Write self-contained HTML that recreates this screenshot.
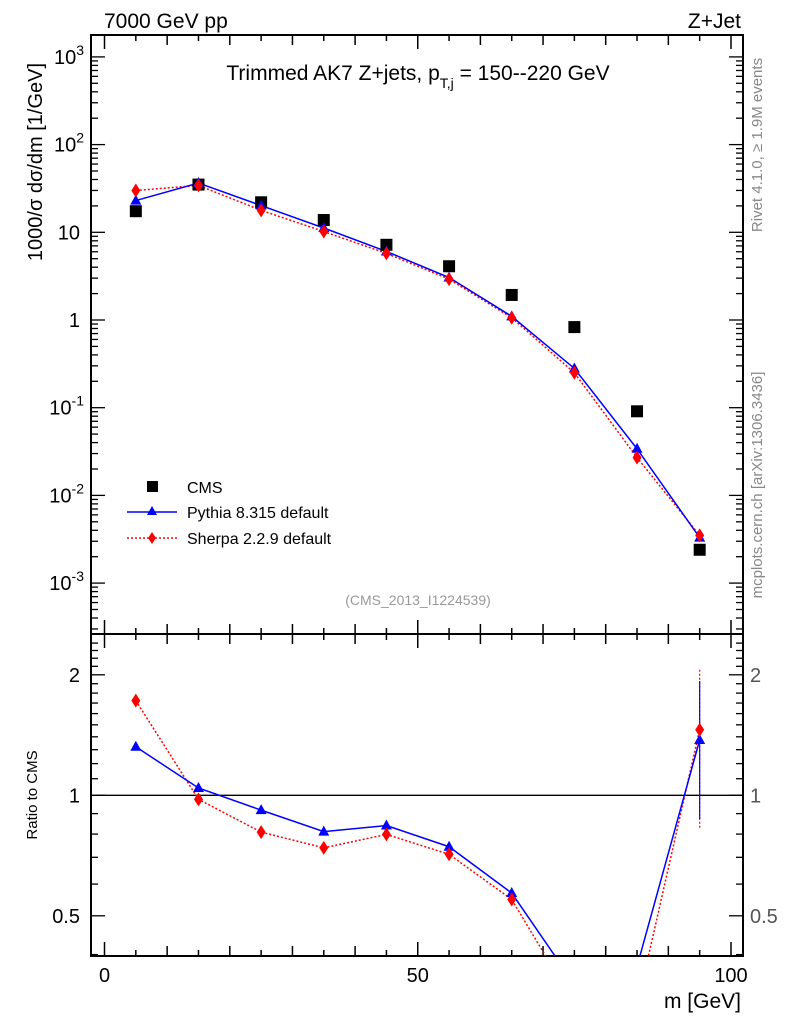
<!DOCTYPE html>
<html><head><meta charset="utf-8"><style>
html,body{margin:0;padding:0;background:#fff}
svg{display:block;font-family:"Liberation Sans",sans-serif}
</style></head><body>
<svg id="c" width="786" height="1024" viewBox="0 0 786 1024" xmlns="http://www.w3.org/2000/svg">
<defs>
<clipPath id="clipMain"><rect x="91" y="35" width="652" height="599"/></clipPath>
<clipPath id="clipRatio"><rect x="91" y="635" width="652" height="321"/></clipPath>
</defs>
<g id="axes"></g>
<g id="marks"></g>
<text x="104" y="28" font-size="21">7000 GeV pp</text>
<text x="741" y="28" font-size="21" text-anchor="end">Z+Jet</text>
<text x="418" y="80" font-size="21" text-anchor="middle">Trimmed AK7 Z+jets, p<tspan font-size="14" dy="8">T,j</tspan><tspan dy="-8"> = 150--220 GeV</tspan></text>
<text transform="translate(42,162) rotate(-90)" font-size="20" text-anchor="middle">1000/σ  dσ/dm [1/GeV]</text>
<text transform="translate(37,795) rotate(-90)" font-size="15" text-anchor="middle">Ratio to CMS</text>
<text x="741" y="1008" font-size="21" text-anchor="end">m [GeV]</text>
<text transform="translate(762,145) rotate(-90)" font-size="15" fill="#888" text-anchor="middle">Rivet 4.1.0, ≥ 1.9M events</text>
<text transform="translate(762,485) rotate(-90)" font-size="15" fill="#888" text-anchor="middle">mcplots.cern.ch [arXiv:1306.3436]</text>
<text x="418" y="605" font-size="14" fill="#999" text-anchor="middle">(CMS_2013_I1224539)</text>
<g>
<rect x="147" y="481" width="11" height="11" fill="#000"/>
<text x="187" y="493" font-size="16">CMS</text>
<line x1="127" y1="512" x2="177" y2="512" stroke="#00f" stroke-width="1.5"/>
<polygon points="152,506 157,515 147,515" fill="#00f"/>
<text x="187" y="518" font-size="16">Pythia 8.315 default</text>
<line x1="127" y1="538" x2="177" y2="538" stroke="#f00" stroke-width="1.5" stroke-dasharray="2,2"/>
<polygon points="152,532 156,538 152,544 148,538" fill="#f00"/>
<text x="187" y="544" font-size="16">Sherpa 2.2.9 default</text>
</g>
</svg>
<script>
const massBins=[5,15,25,35,45,55,65,75,85,95];
const cmsValues=[17.4,35,22,13.8,7.2,4.1,1.93,0.83,0.091,0.0024];
const pythiaValues=[23,36.5,20.2,11.2,6.05,3.05,1.1,0.28,0.034,0.0033];
const sherpaValues=[30,34.2,17.8,10.2,5.75,2.92,1.06,0.25,0.027,0.0035];
const ratioErrPythia=[0.87,1.93];
const ratioErrSherpa=[0.83,2.07];
const mainTickLabels=["10^-3","10^-2","10^-1","1","10","10^2","10^3"];
const ratioTickLabels=[0.5,1,2];
const xTickLabels=[0,50,100];

const NS="http://www.w3.org/2000/svg";
const X0=104.5,XS=6.265;
const fx=v=>X0+v*XS;
const fy=v=>320-87.7*Math.log10(v);
const fr=v=>795.3-120.5*Math.log2(v);
const axes=document.getElementById('axes'),marks=document.getElementById('marks');
function mk(tag,at,parent){const e=document.createElementNS(NS,tag);for(const k in at)e.setAttribute(k,at[k]);(parent||marks).appendChild(e);return e;}

const f1=mk('rect',{x:91,y:35,width:652,height:599,fill:'none',stroke:'#000','stroke-width':2},axes);


const f2=mk('rect',{x:91,y:634,width:652,height:322,fill:'none',stroke:'#000','stroke-width':2},axes);


for(let v=0;v<=100;v+=5){const x=fx(v);const L=(v%50==0)?14:(v%10==0?10:6);
 [[35,1],[634,-1],[634,1],[956,-1]].forEach(([y,d])=>mk('line',{x1:x,x2:x,y1:y,y2:y+d*L,stroke:'#000','stroke-width':1.5},axes));}
xTickLabels.forEach(v=>{const t=mk('text',{x:fx(v),y:982,'font-size':20,'text-anchor':'middle'},axes);t.textContent=v;
 
 });
for(let e=-4;e<=3;e++){for(let m=1;m<10;m++){const v=m*Math.pow(10,e);const y=fy(v);if(y<36||y>633)continue;const L=m==1?14:7;
 mk('line',{x1:91,x2:91+L,y1:y,y2:y,stroke:'#000','stroke-width':1.3},axes);
 mk('line',{x1:743,x2:743-L,y1:y,y2:y,stroke:'#000','stroke-width':1.3},axes);}}
mainTickLabels.forEach((s,i)=>{const e=i-3;const y=fy(Math.pow(10,e));
 const t=mk('text',{x:e==0||e==1?80:84,y:y+7,'font-size':20,'text-anchor':'end'},axes);
 
 
 if(e==0){t.textContent='1';}else if(e==1){t.textContent='10';}
 else{t.textContent='10';const sp=mk('tspan',{dy:-9,'font-size':14},t);sp.textContent=String(e);}});
for(let v=0.4;v<=2.5;v+=0.1){const y=fr(v);if(y<636||y>955)continue;const maj=ratioTickLabels.some(r=>Math.abs(r-v)<1e-6);const L=maj?14:7;
 mk('line',{x1:91,x2:91+L,y1:y,y2:y,stroke:'#000','stroke-width':1.3},axes);
 mk('line',{x1:743,x2:743-L,y1:y,y2:y,stroke:'#000','stroke-width':1.3},axes);}
ratioTickLabels.forEach(v=>{const y=fr(v)+7;
 const a=mk('text',{x:80,y:y,'font-size':20,'text-anchor':'end'},axes);a.textContent=v;
 
 
 const b=mk('text',{x:750,y:y,'font-size':20,fill:'#555'},axes);b.textContent=v;
 
 });
const one=mk('line',{x1:91,x2:743,y1:fr(1),y2:fr(1),stroke:'#000','stroke-width':1.3},axes);



const gm=mk('g',{'clip-path':'url(#clipMain)'});
const gr=mk('g',{'clip-path':'url(#clipRatio)'});
function tri(g,x,y,c){return mk('polygon',{points:`${x},${y-6} ${x+5.5},${y+4} ${x-5.5},${y+4}`,fill:c},g);}
function dia(g,x,y,c){return mk('polygon',{points:`${x},${y-7} ${x+4.5},${y} ${x},${y+7} ${x-4.5},${y}`,fill:c},g);}
const pp=massBins.map((m,i)=>fx(m)+','+fy(pythiaValues[i])).join(' ');
const sp=massBins.map((m,i)=>fx(m)+','+fy(sherpaValues[i])).join(' ');
const sl=mk('polyline',{points:sp,fill:'none',stroke:'#f00','stroke-width':1.5,'stroke-dasharray':'2,2'},gm);


const pl=mk('polyline',{points:pp,fill:'none',stroke:'#00f','stroke-width':1.5},gm);


massBins.forEach((m,i)=>{
 const s=mk('rect',{x:fx(m)-6,y:fy(cmsValues[i])-6,width:12,height:12,fill:'#000'},gm);
 
 
 const t=tri(gm,fx(m),fy(pythiaValues[i]),'#00f');
 
 
 const d=dia(gm,fx(m),fy(sherpaValues[i]),'#f00');
 
 
});
const pr=pythiaValues.map((v,i)=>v/cmsValues[i]);
const sr=sherpaValues.map((v,i)=>v/cmsValues[i]);
const last=massBins.length-1;
mk('line',{x1:fx(massBins[last]),x2:fx(massBins[last]),y1:fr(ratioErrSherpa[0]),y2:fr(ratioErrSherpa[1]),stroke:'#f00','stroke-width':1.2,'stroke-dasharray':'2,2'},gr);
mk('line',{x1:fx(massBins[last]),x2:fx(massBins[last]),y1:fr(ratioErrPythia[0]),y2:fr(ratioErrPythia[1]),stroke:'#00f','stroke-width':1.2},gr);
const srl=mk('polyline',{points:massBins.map((m,i)=>fx(m)+','+fr(sr[i])).join(' '),fill:'none',stroke:'#f00','stroke-width':1.5,'stroke-dasharray':'2,2'},gr);


const prl=mk('polyline',{points:massBins.map((m,i)=>fx(m)+','+fr(pr[i])).join(' '),fill:'none',stroke:'#00f','stroke-width':1.5},gr);


massBins.forEach((m,i)=>{
 const t=tri(gr,fx(m),fr(pr[i]),'#00f');
 
 
 const d=dia(gr,fx(m),fr(sr[i]),'#f00');
 
 
});
</script>
</body></html>
